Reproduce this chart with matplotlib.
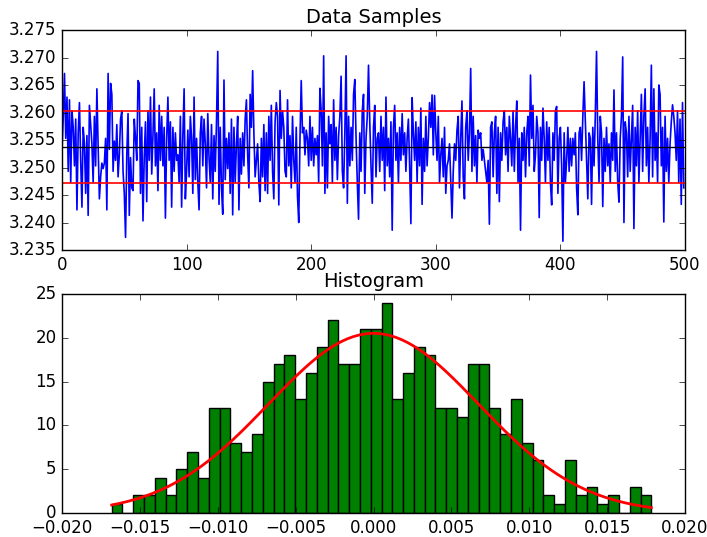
import numpy as np
import matplotlib
matplotlib.use("Agg")
import matplotlib.pyplot as plt
from matplotlib.ticker import FuncFormatter

plt.style.use("classic")

# ---- data ----
base_value = 3.2533
# sample offsets from base in units of 1e-4
sample_offsets = [
    -5, 60, 138, 20, 95, -40, 90, -60, 70, 40,
    -30, 55, -110, 30, 85, -20, -105, 40, 10, -80,
    25, -120, 80, 45, 10, -60, 60, -30, 110, 5,
    -90, -50, -25, -35, -25, 20, -110, 138, 0, 120,
    100, -40, 15, -20, 45, -50, -10, 55, 70, -40,
    -80, -160, -10, 65, -120, -15, -70, -75, 55, 20,
    -20, 125, 120, -80, 40, -130, -15, 50, -95, 70,
    -20, 95, -45, 25, 110, -30, 30, -75, 80, -20,
    60, -30, 40, -125, 20, 95, -20, 50, -105, 40,
    -40, 30, -20, -10, -60, 60, -105, 25, 110, -90,
    -40, 35, -50, 60, 20, -80, 95, -55, 20, -60,
    -110, 30, 60, -30, 55, 10, -70, 65, -15, -60,
    45, -90, 25, -40, 50, 178, -100, 40, -70, -118,
    126, -55, 20, -35, 30, -80, 55, -119, 40, -60,
    10, 60, -110, 20, -45, 30, -30, 55, 90, -10,
    -70, 100, 40, 143, 30, -50, -20, 10, -60, -95,
    20, -50, 45, -75, 30, -80, 60, -20, 80, -40,
    -90, 50, 85, 60, -101, 107, 20, 70, 40, -40,
    -50, 90, -30, 25, -70, 60, -20, -60, 40, -85,
    -133, 20, 125, 30, 40, -10, 35, 20, -30, 60,
    -20, 40, -30, 20, -10, 25, -60, 111, 70, -30,
    170, -80, 30, -70, 60, 10, 45, -60, 90, -20,
    40, -55, 25, 60, 133, -40, -70, 30, 170, -98,
    60, -30, 40, -20, 100, 127, 20, -60, -127, 30,
    -40, 70, 100, -80, 20, 60, 153, 50, -30, -98,
    40, 80, -50, 20, 30, -40, 60, -20, 40, -75,
    95, -30, 20, -50, 50, -147, 40, 80, -20, 30,
    -60, 40, -20, 65, -10, 30, -40, 20, 55, -30,
    -135, 94, 30, -20, 50, -60, 40, -30, 75, -100,
    20, -40, 60, -30, 20, 85, 40, 99, -10, 98,
    30, -20, 60, -60, -10, 20, -50, 40, -80, -30,
    -20, 10, -60, -125, -40, 10, -20, 35, 60, -70,
    20, 88, -50, -90, 40, 70, -20, 30, 147, -40,
    60, -30, 25, -60, 35, 20, 30, -20, 0, -20,
    -40, -60, -20, -136, 40, 50, -50, 30, 60, -80,
    40, -95, 30, -20, 50, 70, -10, 40, -40, 60,
    20, -30, 70, -40, 40, 88, -60, 20, -147, 30,
    -20, 40, -50, 30, 60, -30, 135, 20, 80, -40,
    -10, 60, 30, -124, 40, -20, 75, 20, -60, 50,
    -20, 40, -60, -101, 30, -20, 70, 78, -80, 20,
    40, -30, -167, 30, -60, -20, 40, -40, 20, -30,
    20, -10, 30, -70, -119, 30, 40, -20, 60, 123,
    50, -20, -90, 30, 20, -100, 40, -30, 60, 178,
    20, -60, 60, 30, -104, 20, -40, 40, -30, 10,
    -60, 30, -20, 108, -40, 30, -60, -96, 20, 60,
    168, -133, 50, 30, -50, 60, -40, 20, 80, -144,
    40, -30, 70, -60, 20, 100, -40, 60, 110, -30,
    40, -60, 20, 153, -50, 110, -20, 30, -60, 117,
    100, -30, 40, -132, 60, -40, 20, -60, 10, 50,
    81, 60, 30, -20, 70, -60, 55, -100, 85, -70,
]

hist_counts = [1, 0, 2, 2, 4, 2, 5, 7, 4, 12,
               12, 8, 7, 9, 15, 17, 18, 13, 16, 19,
               22, 17, 17, 21, 21, 24, 13, 16, 19, 18,
               12, 12, 11, 17, 17, 12, 9, 13, 8, 6,
               2, 1, 6, 2, 3, 1, 2, 0, 3, 2]
hist_start = -0.01681
hist_width = 0.000693
fit_sigma = 0.00674

samples = base_value + np.array(sample_offsets) * 1e-4
mean = samples.mean()
std = samples.std()


def fmt3(v, pos):
    return ("%.3f" % v).replace("-", "\u2212")


fig = plt.figure(figsize=(7.07, 5.37), dpi=100)
fig.patch.set_facecolor("white")

ax1 = fig.add_axes([62/707, 1-250/537, 623/707, 220/537])
ax1.plot(np.arange(len(samples)), samples, color="b", lw=1.2)
ax1.axhline(mean, color="k", lw=1)
ax1.axhline(mean + std, color="r", lw=1.2)
ax1.axhline(mean - std, color="r", lw=1.2)
ax1.set_xlim(0, 500)
ax1.set_ylim(3.235, 3.275)
ax1.set_yticks(np.arange(3.235, 3.2751, 0.005))
ax1.yaxis.set_major_formatter(FuncFormatter(fmt3))
ax1.set_title("Data Samples", fontsize=14)

ax2 = fig.add_axes([62/707, 1-513/537, 623/707, 219/537])
edges = hist_start + hist_width * np.arange(len(hist_counts) + 1)
ax2.bar(edges[:-1], hist_counts, width=hist_width, align="edge",
        color="g", edgecolor="k", lw=1)
xs = np.linspace(edges[0], edges[-1], 200)
n_total = sum(hist_counts)
pdf = n_total * hist_width / (fit_sigma * np.sqrt(2 * np.pi)) * np.exp(-0.5 * (xs / fit_sigma) ** 2)
ax2.plot(xs, pdf, color="r", lw=2)
ax2.set_xlim(-0.02, 0.02)
ax2.set_ylim(0, 25)
ax2.set_xticks(np.arange(-0.020, 0.0201, 0.005))
ax2.xaxis.set_major_formatter(FuncFormatter(fmt3))
ax2.set_title("Histogram", fontsize=14)

for ax in (ax1, ax2):
    ax.tick_params(labelsize=12)

fig.savefig("out.png", dpi=100, facecolor="white")
print(mean, std)
